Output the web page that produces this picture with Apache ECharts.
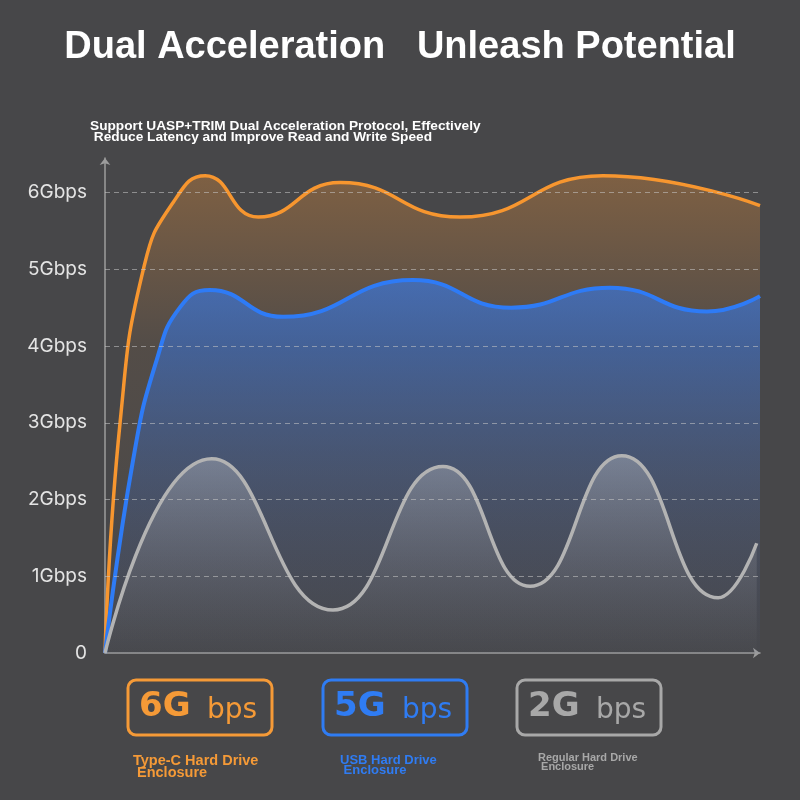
<!DOCTYPE html>
<html>
<head>
<meta charset="utf-8">
<script src="https://cdn.jsdelivr.net/npm/echarts@6/dist/echarts.min.js"></script>
<style>
  html, body { margin: 0; padding: 0; background: #474749; }
  #chart { width: 800px; height: 800px; }
</style>
</head>
<body>
<div id="chart"></div>
<script>
// x runs 0..100 across the plot, y is throughput in Gbps
const typeCData = [
  [0, 0], [2.3, 3.0], [6.0, 5.05], [10.4, 5.87], [15.3, 6.22], [23.4, 5.68],
  [35.9, 6.13], [54.2, 5.68], [76.0, 6.22], [100, 5.83]
]
const usbData = [
  [0, 0], [4.3, 2.52], [7.9, 3.82], [11.5, 4.51], [16.0, 4.73], [27.2, 4.38],
  [47.0, 4.86], [62.0, 4.50], [77.1, 4.76], [91.9, 4.45], [100, 4.65]
]
const regularData = [
  [0, 0], [16.3, 2.53], [34.8, 0.56], [51.6, 2.43], [64.9, 0.87],
  [78.9, 2.57], [93.6, 0.72], [99.5, 1.43]
]
const gridValues = [1, 2, 3, 4, 5, 6]
const badges = [
  { big: '6G', small: 'bps', name: 'Type-C Hard Drive', name2: ' Enclosure', color: '#f59a37' },
  { big: '5G', small: 'bps', name: 'USB Hard Drive', name2: ' Enclosure', color: '#2f7cf3' },
  { big: '2G', small: 'bps', name: 'Regular Hard Drive', name2: ' Enclosure', color: '#a8a8a8' }
]

const ORANGE = '#f7962f'
const BLUE = '#2e7bf6'
const GRAY = '#b3b3b3'

function grad(stops) {
  return new echarts.graphic.LinearGradient(0, 0, 0, 1,
    stops.map(s => ({ offset: s[0], color: s[1] })))
}

const badgeX = [128, 323, 517]
const nameSizes = [14.5, 13, 11]
const nameY = [755, 755, 753]
const nameLead = [12, 10, 9]
const badgeGraphics = []
badges.forEach((b, i) => {
  const x = badgeX[i]
  badgeGraphics.push({
    type: 'rect',
    shape: { x: x, y: 680, width: 144, height: 55, r: 8 },
    style: { fill: 'none', stroke: b.color, lineWidth: 3 }
  })
  badgeGraphics.push({
    type: 'text', x: x + 11, y: 707,
    style: { text: b.big, fill: b.color, fontSize: 34, fontWeight: 'bold', fontFamily: 'DejaVu Sans', verticalAlign: 'middle' }
  })
  badgeGraphics.push({
    type: 'text', x: x + 79, y: 711,
    style: { text: b.small, fill: b.color, fontSize: 28, fontFamily: 'DejaVu Sans', verticalAlign: 'middle' }
  })
  badgeGraphics.push({
    type: 'text',
    x: x + [5, 17, 21][i], y: nameY[i],
    style: {
      text: b.name + '\n' + b.name2,
      fill: b.color,
      fontSize: nameSizes[i],
      fontWeight: 'bold',
      lineHeight: nameLead[i],
      fontFamily: 'Liberation Sans, Arial'
    }
  })
})

const chart = echarts.init(document.getElementById('chart'))
chart.setOption({
  backgroundColor: '#474749',
  animation: false,
  title: [
    {
      text: 'Dual Acceleration   Unleash Potential',
      left: 'center', top: 24,
      textStyle: { color: '#ffffff', fontSize: 38, fontWeight: 'bold', fontFamily: 'Liberation Sans, Arial' }
    },
    {
      text: 'Support UASP+TRIM Dual Acceleration Protocol, Effectively\n Reduce Latency and Improve Read and Write Speed',
      left: 85, top: 116,
      textStyle: { color: '#ffffff', fontSize: 13.7, lineHeight: 11, fontWeight: 'bold', fontFamily: 'Liberation Sans, Arial' }
    }
  ],
  grid: { left: 105, right: 40, top: 158, bottom: 147 },
  xAxis: {
    type: 'value', min: 0, max: 100,
    axisLine: { show: true, symbol: ['none', 'arrow'], symbolSize: [8, 7], lineStyle: { color: '#9c9c9c', width: 1.5 } },
    axisTick: { show: false },
    axisLabel: { show: false },
    splitLine: { show: false }
  },
  yAxis: {
    type: 'value', min: 0, max: 6.45, interval: 1,
    axisLine: { show: true, symbol: ['none', 'arrow'], symbolSize: [8, 7], lineStyle: { color: '#9c9c9c', width: 1.5 } },
    axisTick: { show: false },
    splitLine: { show: false },
    axisLabel: {
      showMaxLabel: false,
      margin: 18,
      color: '#e4e4e4', fontSize: 19, fontFamily: 'Inter',
      formatter: v => Number.isInteger(v) ? (v === 0 ? '0' : v + 'Gbps') : ''
    }
  },
  series: [
    {
      name: 'Type-C', type: 'line', smooth: 0.5, showSymbol: false, symbol: 'none',
      data: typeCData,
      lineStyle: { color: ORANGE, width: 3.5 },
      areaStyle: { color: grad([[0, 'rgba(245,150,55,0.45)'], [0.35, 'rgba(245,150,55,0.1)'], [1, 'rgba(245,150,55,0)']]) }
    },
    {
      name: 'USB', type: 'line', smooth: 0.5, showSymbol: false, symbol: 'none',
      data: usbData,
      lineStyle: { color: BLUE, width: 4 },
      areaStyle: { color: grad([[0, 'rgba(52,122,238,0.9)'], [0.5, 'rgba(55,110,210,0.4)'], [1, 'rgba(60,90,160,0.05)']]) }
    },
    {
      name: 'Regular', type: 'line', smooth: 0.5, showSymbol: false, symbol: 'none',
      data: regularData,
      lineStyle: { color: GRAY, width: 3.5 },
      areaStyle: { color: grad([[0, 'rgba(185,188,194,0.6)'], [0.6, 'rgba(160,160,165,0.25)'], [1, 'rgba(150,150,150,0.02)']]) },
      markLine: {
        silent: true, symbol: 'none',
        label: { show: false },
        lineStyle: { color: 'rgba(200,200,200,0.55)', type: [5, 4], width: 1 },
        data: gridValues.map(v => ({ yAxis: v }))
      }
    }
  ],
  graphic: badgeGraphics
})
</script>
</body>
</html>
